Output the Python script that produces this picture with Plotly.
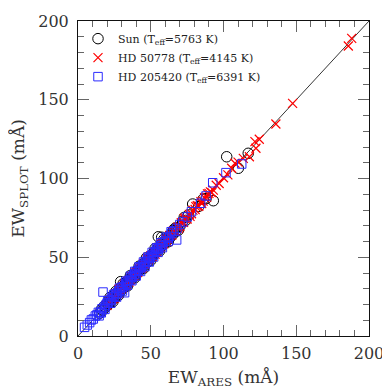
import plotly.graph_objects as go

# Sun (Teff=5763 K)
sun_ares = [15, 16, 17, 18, 19, 20, 21, 21.5, 22, 23, 24, 25, 25.5, 26, 27, 28, 29.3, 29, 30, 31,
            32, 33, 33.5, 34, 35, 36, 37, 37.5, 38, 39, 40, 40.5, 41, 42, 43, 44, 44.5, 45, 46, 47,
            48, 48.5, 49, 50, 51, 52, 52.5, 53, 54, 55, 55.2, 56, 57, 57.5, 58, 59, 60, 61, 62, 63,
            64, 65.5, 65, 66, 67, 68, 70, 72, 74, 76, 78.8, 83, 86, 88, 93, 102.2, 110.2, 117,
            22, 24, 26, 28, 31, 34, 36, 39, 42, 45, 47, 50, 53, 56, 59, 62, 66.7, 69, 73]
sun_splot = [14.5, 16.8, 16.2, 18.9, 18.3, 20.6, 20.1, 22.4, 21.3, 23.8, 23.2, 25.9, 24.6, 26.8, 26.3, 28.7, 34.5, 28.4, 30.9, 30.2,
             32.6, 32.1, 34.4, 33.5, 35.8, 35.3, 37.9, 36.6, 38.7, 38.2, 40.9, 39.8, 41.6, 41.4, 43.9, 43.1, 45.2, 44.6, 46.9, 46.3,
             48.8, 47.7, 49.5, 49.4, 51.8, 51.2, 53.4, 52.6, 54.9, 54.3, 63.0, 56.7, 56.4, 62.7, 58.8, 58.3, 60.9, 60.4, 62.7, 62.2,
             64.8, 67.3, 64.3, 66.9, 66.2, 68.7, 69.6, 72.8, 73.4, 76.9, 83.8, 82.3, 86.9, 87.2, 85.9, 113.8, 106.5, 116.0,
             24.5, 21.8, 28.3, 26.0, 33.2, 31.8, 38.4, 36.9, 44.3, 42.8, 49.6, 48.0, 55.6, 53.9, 61.4, 59.8, 68.4, 67.2, 75.3]

# HD 50778 (Teff=4145 K)
hd50778_ares = [20, 22, 24, 26, 27.5, 29, 30.5, 32, 33, 34.5, 36, 37, 38.5, 40, 41, 42, 43.5, 45, 46, 47.5,
                49, 50, 51, 52.5, 54, 55, 56.5, 58, 59, 60.5, 62, 63, 64.5, 66, 67, 68.5, 70, 71, 72.5, 74,
                75, 76.5, 78, 79, 80.5, 82, 83, 84.5, 86, 87, 88.5, 90, 91, 93, 95, 97, 100, 103, 105.6, 107.9,
                110, 113.6, 117.8, 121.6, 122.3, 124.6, 136, 147.5, 185.8, 188.1,
                25, 28, 31, 35, 39, 44, 48, 53, 57, 61, 65, 69, 73, 77, 81, 85, 89, 92]
hd50778_splot = [19.5, 22.8, 23.6, 26.9, 27.1, 29.8, 30.2, 32.9, 32.4, 35.1, 35.6, 37.8, 38.1, 40.7, 40.3, 42.9, 43.2, 45.8, 45.4, 48.3,
                 48.6, 50.9, 50.5, 53.1, 53.6, 55.9, 56.2, 58.7, 58.5, 61.3, 61.6, 63.8, 64.1, 66.9, 66.4, 69.1, 69.5, 71.9, 72.2, 74.8,
                 74.3, 77.2, 77.6, 79.9, 80.3, 82.7, 82.4, 85.3, 85.6, 87.8, 88.2, 90.6, 91.5, 92.6, 95.7, 96.8, 100.5, 102.3, 106.5, 109.7,
                 110.4, 112.8, 113.8, 123.4, 119.2, 124.9, 134.6, 147.7, 184.1, 189.0,
                 24.1, 29.5, 31.6, 34.2, 40.1, 43.4, 49.7, 52.0, 58.1, 59.9, 66.3, 68.2, 74.6, 76.0, 82.1, 84.1, 90.2, 91.0]

# HD 205420 (Teff=6391 K)
hd205420_ares = [4.5, 6.4, 8, 9.2, 10.5, 11.9, 13, 14, 15.5, 17.2, 16.5, 18, 19, 20, 21, 22, 23, 24, 25, 26,
                 27, 28, 29, 30, 31, 32, 32.5, 33.5, 34.5, 35.5, 36.5, 37.5, 38.5, 39.5, 40.5, 41.5, 42.5, 43.5, 44.5, 45.5,
                 46.5, 47.5, 48.5, 49.5, 50.5, 51.5, 52.5, 53.5, 54.5, 55.5, 56.5, 57.5, 58.5, 60, 61.5, 63, 64.5, 66, 67.8, 68,
                 70, 72, 75, 78, 84.3, 88, 92.6, 101.7, 112.5,
                 14.5, 16, 18.5, 20.5, 22.5, 24.5, 26.5, 28.5, 30.5, 32.8, 34, 36, 37, 39, 40, 42, 43, 45, 46, 48,
                 49, 51, 52, 54, 55, 57, 58, 60.5, 62, 64]
hd205420_splot = [5.5, 7.0, 8.5, 10.2, 10.8, 12.7, 13.4, 15.0, 15.2, 27.9, 17.3, 18.4, 19.6, 20.9, 21.2, 22.6, 23.1, 24.8, 25.3, 26.9,
                  27.2, 28.7, 29.1, 30.8, 31.3, 27.5, 32.9, 33.6, 35.2, 35.4, 37.1, 37.6, 39.2, 39.4, 41.1, 41.7, 43.2, 43.6, 45.1, 45.6,
                  47.3, 47.4, 49.1, 49.6, 51.2, 51.4, 53.1, 53.8, 55.2, 55.4, 57.2, 57.6, 59.3, 60.4, 62.1, 63.2, 65.1, 66.7, 61.0, 68.3,
                  70.8, 72.4, 75.6, 78.9, 84.3, 88.9, 97.3, 103.7, 109.2,
                  12.8, 14.7, 16.9, 22.4, 20.8, 26.3, 24.7, 30.4, 28.6, 34.7, 32.2, 38.0, 35.1, 41.0, 38.1, 44.0, 41.0, 47.0, 44.1, 50.1,
                  47.0, 53.1, 50.2, 56.0, 53.1, 59.2, 56.1, 62.8, 60.0, 66.2]

one_to_one = [0, 200]

SERIF = "DejaVu Serif, Liberation Serif, serif"

fig = go.Figure()
fig.add_trace(go.Scatter(x=one_to_one, y=one_to_one, mode="lines",
                         line=dict(color="black", width=0.8), showlegend=False, hoverinfo="skip"))
fig.add_trace(go.Scatter(x=sun_ares, y=sun_splot, mode="markers",
                         name="Sun (T<sub>eff</sub>=5763 K)", legendrank=1,
                         marker=dict(symbol="circle-open", size=10.5, color="black", line=dict(width=1))))
fig.add_trace(go.Scatter(x=hd50778_ares, y=hd50778_splot, mode="markers",
                         name="HD 50778 (T<sub>eff</sub>=4145 K)", legendrank=2,
                         marker=dict(symbol="x-thin-open", size=9, color="red", line=dict(width=1.2, color="red"))))
fig.add_trace(go.Scatter(x=hd205420_ares, y=hd205420_splot, mode="markers",
                         name="HD 205420 (T<sub>eff</sub>=6391 K)", legendrank=3,
                         marker=dict(symbol="square-open", size=8.5, color="#2a2aff", line=dict(width=1))))

axis_common = dict(
    range=[0, 200], dtick=50, tick0=0, ticks="inside", ticklen=11, tickwidth=1, tickcolor="#666",
    showline=True, linecolor="#111", linewidth=1, mirror="ticks", showgrid=False, zeroline=False,
    automargin=False,
    tickfont=dict(family=SERIF, size=16, color="#333"),
    minor=dict(dtick=10, ticks="inside", ticklen=6, tickwidth=1, tickcolor="#666", showgrid=False),
)

# the page body adds an 8 px offset, so the figure is 382 px and margins are shifted accordingly
fig.update_layout(
    width=382, height=382,
    margin=dict(l=70, r=21, t=13, b=54),
    paper_bgcolor="white", plot_bgcolor="white",
    xaxis=dict(**axis_common, title=dict(text="EW<sub>ARES</sub> (mÅ)", font=dict(family=SERIF, size=17, color="#333"), standoff=8),
               ticklabelstandoff=3),
    yaxis=dict(**axis_common, title=dict(text="EW<sub>SPLOT</sub> (mÅ)", font=dict(family=SERIF, size=17, color="#333"), standoff=10),
               ticklabelstandoff=5),
    legend=dict(x=0.0, y=0.99, xanchor="left", yanchor="top", bgcolor="rgba(0,0,0,0)",
                font=dict(family=SERIF, size=11, color="#222"), itemsizing="trace",
                tracegroupgap=0, itemwidth=30),
    showlegend=True,
)

fig.write_html("out.html")
